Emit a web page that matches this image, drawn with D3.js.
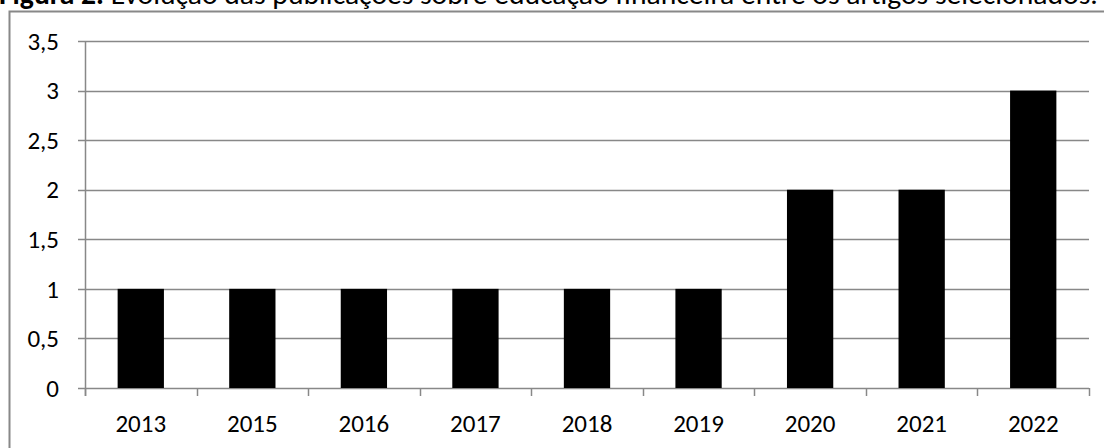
<!DOCTYPE html>
<html>
<head>
<meta charset="utf-8">
<script src="https://cdn.jsdelivr.net/npm/d3@7"></script>
<style>
  body { margin: 0; background: #fff; }
  svg { display: block; font-family: Carlito, Calibri, Lato, "Liberation Sans", sans-serif; }
</style>
</head>
<body>
<div class="chart"></div>
<script>
var years = ["2013", "2015", "2016", "2017", "2018", "2019", "2020", "2021", "2022"];
var counts = [1, 1, 1, 1, 1, 1, 2, 2, 3];
var yTicks = [0, 0.5, 1, 1.5, 2, 2.5, 3, 3.5];

var width = 1104, height = 448;
var plot = { left: 85, right: 1089, top: 41, bottom: 388 };
var grey = "#888";
var labelSize = 25;

var svg = d3.select(".chart").append("svg")
  .attr("width", width)
  .attr("height", height);

// outer chart border (runs off the right and bottom edges)
svg.append("rect")
  .attr("x", 9.5).attr("y", 11.5)
  .attr("width", 1110).attr("height", 460)
  .attr("fill", "#fff")
  .attr("stroke", grey)
  .attr("stroke-width", 2);

// title, partly clipped at the top like the source
var title = svg.append("text")
  .attr("x", -1).attr("y", 4)
  .attr("font-size", 24)
  .attr("fill", "#000");
title.append("tspan").attr("font-weight", "bold").text("Figura 2.");
title.append("tspan").text(" Evolução das publicações sobre educação financeira entre os artigos selecionados.");
var tw = title.node().getComputedTextLength();
title.attr("font-size", 24 * 1099 / tw);

var x = d3.scaleBand()
  .domain(years)
  .range([plot.left, plot.right])
  .paddingInner(0.585)
  .paddingOuter(0.2925);

var y = d3.scaleLinear()
  .domain([0, 3.5])
  .range([plot.bottom, plot.top]);

// gridlines
svg.append("g")
  .selectAll("line")
  .data(yTicks)
  .enter().append("line")
    .attr("x1", plot.left - 7).attr("x2", plot.right)
    .attr("y1", d => Math.round(y(d)) + 0.5)
    .attr("y2", d => Math.round(y(d)) + 0.5)
    .attr("stroke", grey)
    .attr("stroke-width", 1.5);

// y labels
svg.append("g")
  .selectAll("text")
  .data(yTicks)
  .enter().append("text")
    .attr("x", 59)
    .attr("y", d => y(d))
    .attr("dy", "0.35em")
    .attr("text-anchor", "end")
    .attr("font-size", labelSize)
    .text(d => String(d).replace(".", ","));

// bars
svg.append("g")
  .selectAll("rect")
  .data(counts)
  .enter().append("rect")
    .attr("x", (d, i) => x(years[i]))
    .attr("y", d => y(d))
    .attr("width", x.bandwidth())
    .attr("height", d => y(0) - y(d))
    .attr("fill", "#000");

// y axis line
svg.append("line")
  .attr("x1", plot.left + 0.5).attr("x2", plot.left + 0.5)
  .attr("y1", plot.top).attr("y2", plot.bottom + 8)
  .attr("stroke", grey)
  .attr("stroke-width", 1.5);

// x category tick marks
var step = (plot.right - plot.left) / years.length;
var xTicks = d3.range(years.length + 1).map(i => plot.left + i * step);
svg.append("g")
  .selectAll("line")
  .data(xTicks)
  .enter().append("line")
    .attr("x1", d => Math.round(d) + 0.5).attr("x2", d => Math.round(d) + 0.5)
    .attr("y1", plot.bottom).attr("y2", plot.bottom + 8)
    .attr("stroke", grey)
    .attr("stroke-width", 1.5);

// x labels
svg.append("g")
  .selectAll("text")
  .data(years)
  .enter().append("text")
    .attr("x", d => x(d) + x.bandwidth() / 2)
    .attr("y", 432)
    .attr("text-anchor", "middle")
    .attr("font-size", labelSize)
    .text(d => d);
</script>
</body>
</html>
